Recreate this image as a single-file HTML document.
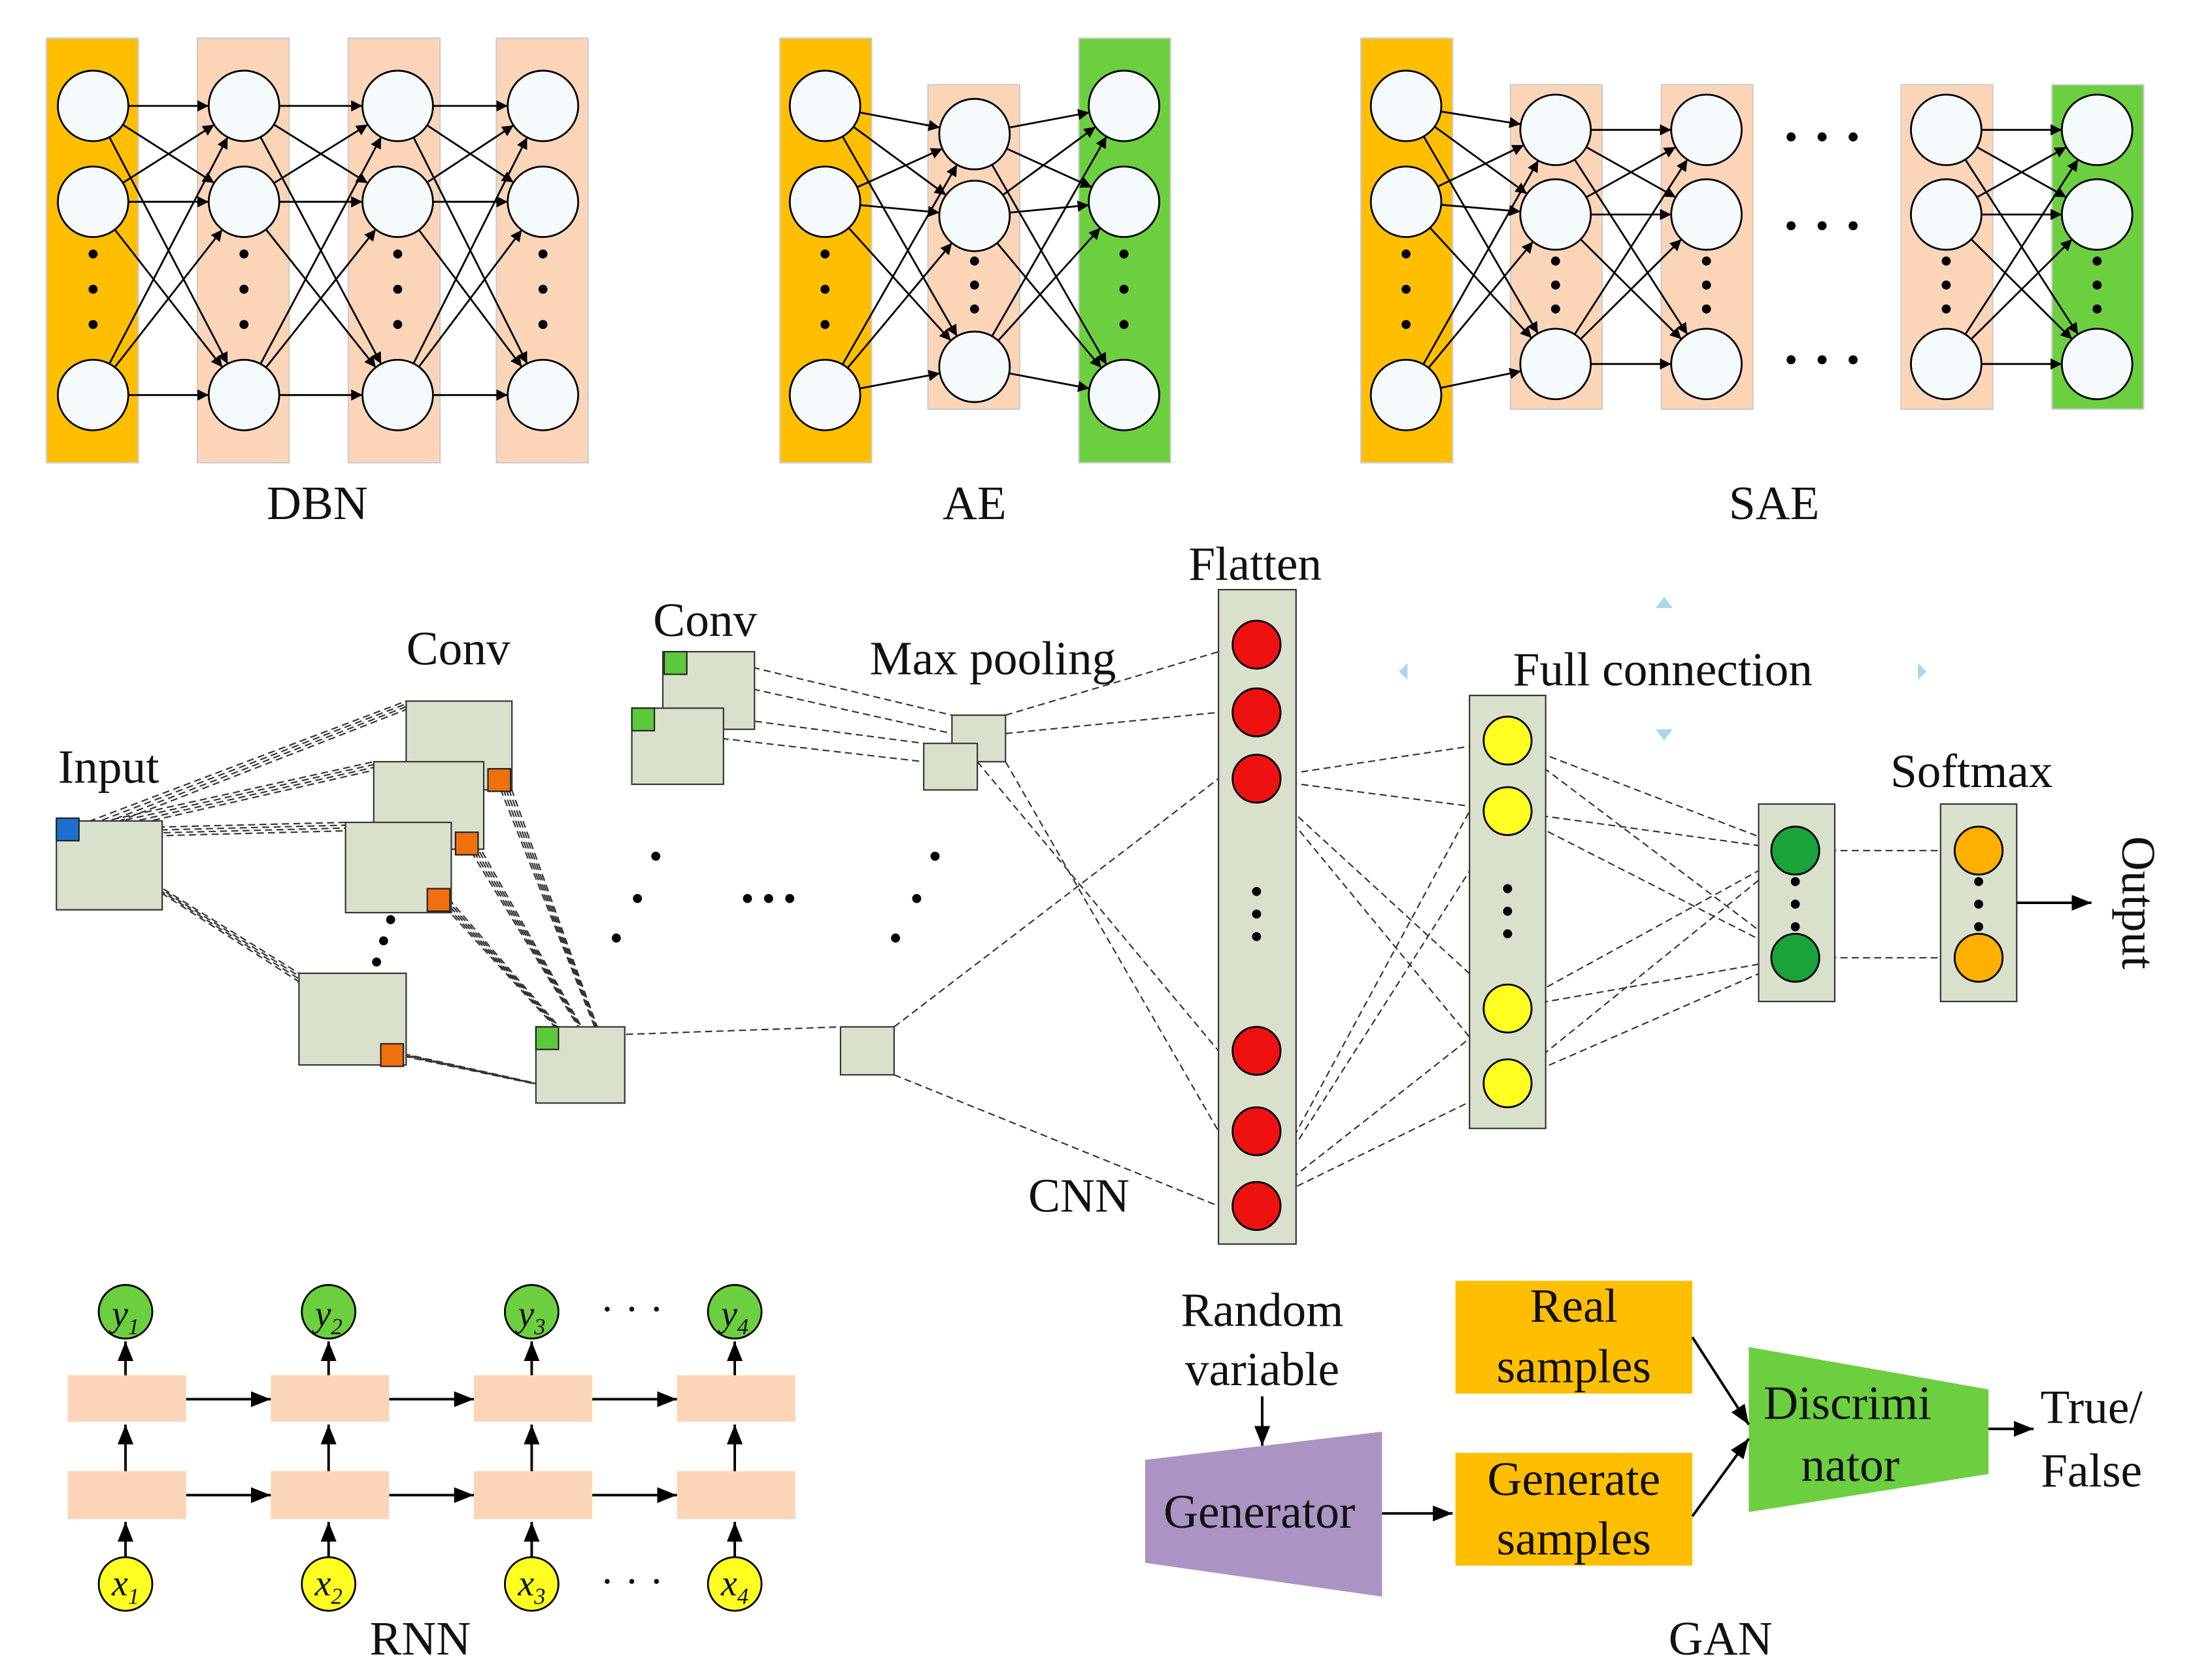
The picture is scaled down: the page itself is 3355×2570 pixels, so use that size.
<!DOCTYPE html>
<html><head><meta charset="utf-8"><style>
html,body{margin:0;padding:0;background:#fff}
svg{display:block}
text{font-family:"Liberation Serif",serif;fill:#111}
</style></head><body>
<svg id="s" width="3355" height="2570" viewBox="0 0 1555 1191" xmlns="http://www.w3.org/2000/svg">
<defs>
<marker id="a" viewBox="0 0 10 10" refX="10" refY="5" markerWidth="8" markerHeight="8" orient="auto" markerUnits="userSpaceOnUse"><path d="M0,0L10,5L0,10z" fill="#000"/></marker>
<marker id="b" viewBox="0 0 10 10" refX="10" refY="5" markerWidth="14" markerHeight="14" orient="auto" markerUnits="userSpaceOnUse"><path d="M0,1L10,5L0,9z" fill="#000"/></marker>
</defs>
<g id="bg"></g>
<g id="lines" stroke="#000" stroke-width="1.3"></g>
<g id="dash" stroke="#333" stroke-width="1" stroke-dasharray="5,3" fill="none"></g>
<g id="fg"></g>
<g font-size="34" text-anchor="middle">
<text x="225" y="368">DBN</text>
<text x="691" y="368">AE</text>
<text x="1258" y="368">SAE</text>
<text x="890" y="411">Flatten</text>
<text x="325" y="471">Conv</text>
<text x="500" y="451">Conv</text>
<text x="704" y="478">Max pooling</text>
<text x="77" y="555">Input</text>
<text x="1179" y="486">Full connection</text>
<text x="1398" y="558">Softmax</text>
<text x="765" y="859">CNN</text>
<text x="298" y="1173">RNN</text>
<text x="1220" y="1173">GAN</text>
<text x="895" y="940">Random</text>
<text x="895" y="982">variable</text>
<text x="893" y="1083">Generator</text>
<text x="1116" y="937">Real</text>
<text x="1116" y="980">samples</text>
<text x="1116" y="1060">Generate</text>
<text x="1116" y="1102">samples</text>
<text x="1310" y="1006">Discrimi</text>
<text x="1312" y="1050">nator</text>
<text x="1483" y="1009">True/</text>
<text x="1483" y="1054">False</text>
<text x="1505" y="640" transform="rotate(90 1505 640)">Output</text>
</g>
<g font-size="26" text-anchor="middle" font-style="italic">
<text x="89" y="940">y<tspan font-size="16" dy="6">1</tspan></text>
<text x="233" y="940">y<tspan font-size="16" dy="6">2</tspan></text>
<text x="377" y="940">y<tspan font-size="16" dy="6">3</tspan></text>
<text x="521" y="940">y<tspan font-size="16" dy="6">4</tspan></text>
<text x="89" y="1131">x<tspan font-size="16" dy="6">1</tspan></text>
<text x="233" y="1131">x<tspan font-size="16" dy="6">2</tspan></text>
<text x="377" y="1131">x<tspan font-size="16" dy="6">3</tspan></text>
<text x="521" y="1131">x<tspan font-size="16" dy="6">4</tspan></text>
<text x="448" y="938" font-style="normal" font-size="30">· · ·</text>
<text x="448" y="1131" font-style="normal" font-size="30">· · ·</text>
</g>
</svg>
<script>
const NS="http://www.w3.org/2000/svg";
function el(p,t,a){const e=document.createElementNS(NS,t);for(const k in a)e.setAttribute(k,a[k]);document.getElementById(p).appendChild(e);return e;}
function rect(x,y,w,h,f,p,s){el(p||"bg","rect",{x,y,width:w,height:h,fill:f,stroke:s||"none","stroke-width":1});}
function circ(x,y,r,f,p){el(p||"fg","circle",{cx:x,cy:y,r,fill:f,stroke:"#000","stroke-width":1.3});}
function line(x1,y1,x2,y2,p,m,w){const a={x1,y1,x2,y2};if(m)a["marker-end"]="url(#"+m+")";if(p==="fg"){a.stroke="#000";a["stroke-width"]=w||1.8;}el(p||"lines","line",a);}
function dot(x,y,r){el("fg","circle",{cx:x,cy:y,r:r||3.2,fill:"#000"});}
const OR="#ffbf00",PE="#fcd5b8",GR="#6ccf3f",CW="#f5fbfd",GB="#d9e0cc";
function col(x,y1,y2,f){rect(x,y1,65,y2-y1,f,"bg","#ccc");}
function nodes(cx,ys,r){ys.forEach(y=>circ(cx,y,r||25,CW));}
function vd(x,ys){ys.forEach(y=>dot(x,y));}
function conn(x1,ys1,x2,ys2,r){ys1.forEach(a=>ys2.forEach(b=>{const dx=x2-x1,dy=b-a,L=Math.hypot(dx,dy);line(x1+dx/L*r*0.95,a+dy/L*r*0.95,x2-dx/L*r,b-dy/L*r,"lines","a");}));}
// DBN
const Y3=[75,143,280];
col(33,27,328,OR);[140,247,352].forEach(x=>col(x,27,328,PE));
const dx=[66,173,282,385];
for(let i=0;i<3;i++)conn(dx[i],Y3,dx[i+1],Y3,25);
dx.forEach(x=>{nodes(x,Y3);vd(x,[180,205,230]);});
// AE
col(553,27,328,OR);col(658,60,290,PE);col(765,27,328,GR);
const Ym=[95,153,260];
conn(585,Y3,691,Ym,25);conn(691,Ym,797,Y3,25);
nodes(585,Y3);nodes(691,Ym);nodes(797,Y3);
vd(585,[180,205,230]);vd(691,[185,202,219]);vd(797,[180,205,230]);
// SAE
col(965,27,328,OR);col(1071,60,290,PE);col(1178,60,290,PE);col(1348,60,290,PE);col(1455,60,290,GR);
const Ys=[92,152,258];
conn(997,Y3,1103,Ys,25);conn(1103,Ys,1210,Ys,25);conn(1380,Ys,1487,Ys,25);
nodes(997,Y3);[1103,1210,1380,1487].forEach(x=>{nodes(x,Ys);vd(x,[185,202,219]);});
vd(997,[180,205,230]);
[97,160,255].forEach(y=>[1270,1292,1314].forEach(x=>dot(x,y)));
// CNN boxes
function box(x,y,w,h){rect(x,y,w,h,GB,"fg","#333");}
function sq(x,y,f){rect(x,y,16,16,f,"fg","#222");}
const D=(a,b,c,d)=>line(a,b,c,d,"dash");
[[288,497],[265,540],[245,583],[212,690]].forEach(p=>{for(let k=0;k<4;k++)D(48+k*2,588+k*2,p[0],p[1]+k*2);});
[[362,560],[340,605],[320,645],[288,755]].forEach(p=>{for(let k=0;k<5;k++)D(p[0]-10+k*2,p[1]-8,443,782);});
D(487,462,675,507);D(487,478,675,520);D(464,502,655,527);D(464,518,655,540);D(396,735,596,728);
D(713,507,864,462);D(713,520,864,505);D(693,540,864,745);D(713,540,864,802);D(634,728,864,552);D(634,762,864,855);
const R=[457,505,552,745,802,855],YY=[525,575,715,768],G2=[603,679];
R.forEach(a=>YY.forEach((b,i)=>{if((a+b+i)%3!=1)D(891,a,1069,b);}));
YY.forEach(a=>G2.forEach(b=>D(1069,a,1273,b)));
G2.forEach(y=>D(1273,y,1403,y));
box(40,582,75,63);sq(40,580,"#1f6fcf");
box(288,497,75,63);sq(346,545,"#f07010");
box(265,540,78,62);sq(323,590,"#f07010");
box(245,583,75,64);sq(303,630,"#f07010");
box(212,690,76,65);sq(270,740,"#f07010");
[[277,652],[272,667],[267,682]].forEach(p=>dot(...p));
box(470,462,65,55);sq(471,462,"#5cc83c");
box(448,502,65,54);sq(448,502,"#5cc83c");
box(380,728,63,54);sq(380,728,"#5cc83c");
[[465,607],[452,637],[437,665],[530,637],[545,637],[560,637],[663,607],[650,637],[635,665]].forEach(p=>dot(...p));
box(675,507,38,33);box(655,527,38,33);box(596,728,38,34);
rect(864,418,55,464,GB,"fg","#333");
R.forEach(y=>circ(891,y,17,"#ee1111"));vd(891,[632,648,664]);
rect(1042,493,54,307,GB,"fg","#333");
YY.forEach(y=>circ(1069,y,17,"#ffff22"));vd(1069,[630,646,662]);
rect(1247,570,54,140,GB,"fg","#333");
G2.forEach(y=>circ(1273,y,17,"#1aa33a"));vd(1273,[625,641,657]);
rect(1376,570,54,140,GB,"fg","#333");
G2.forEach(y=>circ(1403,y,17,"#ffb000"));vd(1403,[625,641,657]);
line(1430,640,1483,640,"fg","b");
[["1180,423 1174,431 1186,431"],["998,470 992,476 998,482"],["1360,470 1366,476 1360,482"],["1174,517 1186,517 1180,525"]].forEach(p=>el("fg","polygon",{points:p[0],fill:"#a8d8ea"}));
// RNN
[48,192,336,480].forEach((x,i)=>{const c=[89,233,377,521][i];
rect(x,975,84,33,PE,"bg");rect(x,1043,84,34,PE,"bg");
circ(c,930,19,GR);circ(c,1123,19,"#ffff22");
line(c,1104,c,1079,"fg","b");line(c,1043,c,1010,"fg","b");line(c,975,c,951,"fg","b");
if(i<3){line(x+84,992,x+144,992,"fg","b");line(x+84,1060,x+144,1060,"fg","b");}});
// GAN
line(895,990,895,1025,"fg","b");
el("bg","polygon",{points:"812,1035 980,1015 980,1132 812,1108",fill:"#ab94c3"});
line(980,1073,1030,1073,"fg","b");
rect(1032,908,168,80,OR,"bg");rect(1032,1030,168,80,OR,"bg");
el("bg","polygon",{points:"1240,955 1410,985 1410,1045 1240,1072",fill:GR});
line(1200,948,1240,1010,"fg","b");line(1200,1075,1240,1020,"fg","b");
line(1410,1013,1442,1013,"fg","b");
</script>
</body></html>
